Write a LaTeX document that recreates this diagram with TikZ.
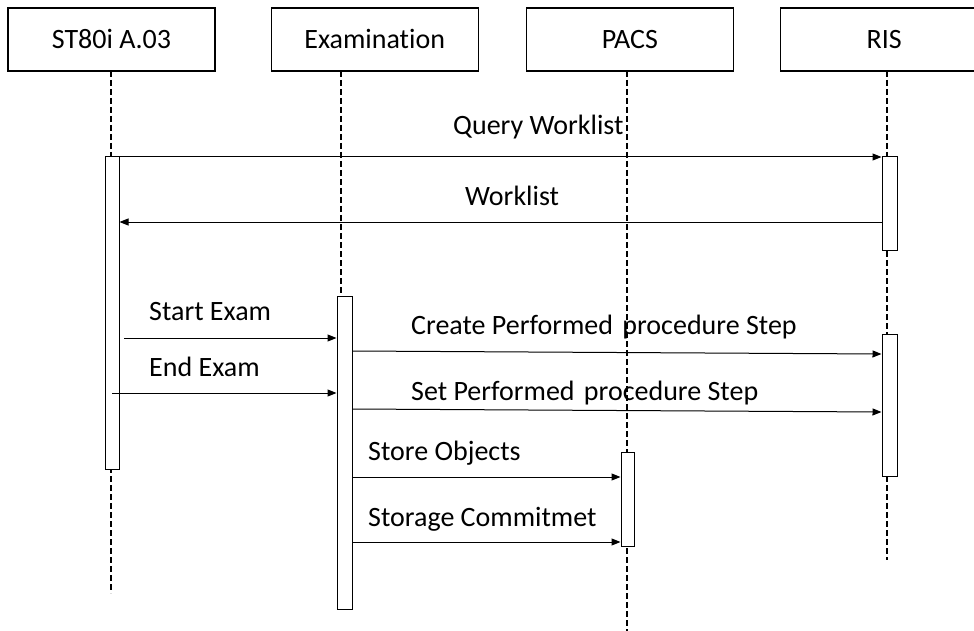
\documentclass[tikz,border=0pt]{standalone}
\usepackage{fontspec}
\setmainfont{Carlito}[Ligatures=NoCommon]
\usetikzlibrary{arrows.meta, positioning}

\begin{document}
\begin{tikzpicture}[
            x = 1pt,
            y = -1pt,
            > = {Triangle[length=9pt, width=7pt]},
            font = \fontsize{28}{32}\selectfont,
            head/.style = {draw, line width=1.2pt, minimum width=207pt,
                minimum height=63pt, inner sep=0pt, text height=18pt,
                text depth=0pt},
            bar/.style = {draw, fill=white, line width=1pt, inner sep=0pt},
            life/.style = {line width=1.8pt, dash pattern=on 6pt off 3pt},
            msg/.style = {->, line width=1pt},
            lbl/.style = {anchor=west, inner sep=0pt}
        ]
        \useasboundingbox (0,0) rectangle (974,631);

        % actors
        \node[head] (st) at (111.5,39.5) {ST80i A.03};
        \node[head, right=55pt of st] (ex) {Examination};
        \node[head, right=47pt of ex] (pacs) {PACS};
        \node[head, right=46pt of pacs] (ris) {RIS};

        % lifelines
        \draw[life] (111,71) -- (111,593);
        \draw[life] (341,71) -- (341,296);
        \draw[life] (627,71) -- (627,631);
        \draw[life] (887,71) -- (887,560);

        % activations
        \node[bar, minimum width=14pt, minimum height=312pt] (barST) at (112,313) {};
        \node[bar, minimum width=15pt, minimum height=93pt] (barRIS1) at (889.5,203.5) {};
        \node[bar, minimum width=15pt, minimum height=142pt] (barRIS2) at (889.5,405) {};
        \node[bar, minimum width=15pt, minimum height=313pt] (barEx) at (344.5,452.5) {};
        \node[bar, minimum width=13pt, minimum height=94pt] (barPACS) at (627.5,499) {};

        % messages
        \draw[msg] (barST.east |- 0,157) -- (barRIS1.west |- 0,157);
        \draw[msg] (barRIS1.west |- 0,222) -- (barST.east |- 0,222);
        \draw[msg] (124,338) -- (barEx.west |- 0,338);
        \draw[msg] (barST.center |- 0,393) -- (barEx.west |- 0,393);
        \draw[msg] (barEx.east |- 0,351) -- (barRIS2.west |- 0,354);
        \draw[msg] (barEx.east |- 0,409) -- (barRIS2.west |- 0,412);
        \draw[msg] (barEx.east |- 0,477) -- (barPACS.west |- 0,477);
        \draw[msg] (barEx.east |- 0,542) -- (barPACS.west |- 0,542);

        % labels
        \node[lbl] (lQuery) at (453,127) {Query Worklist};
        \node[lbl] (lList) at (465,196) {Worklist};
        \node[lbl] (lStart) at (149,312) {Start Exam};
        \node[lbl] (lEnd) at (149,367) {End Exam};
        \node[lbl] (lCreate) at (411,327) {Create Performed\hspace{3pt} procedure Step};
        \node[lbl] (lSet) at (411,393) {Set Performed\hspace{3pt} procedure Step};
        \node[lbl] (lStore) at (368,453) {Store Objects};
        \node[lbl] (lCommit) at (368,519) {Storage Commitmet};
    \end{tikzpicture}
\end{document}
